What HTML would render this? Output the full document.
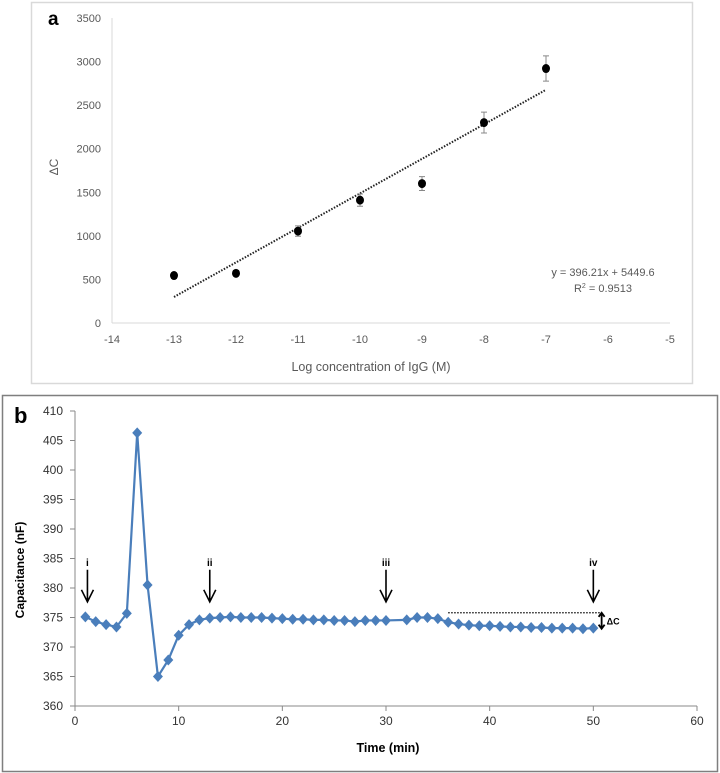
<!DOCTYPE html>
<html><head><meta charset="utf-8"><style>
html,body{margin:0;padding:0;background:#fff;width:720px;height:773px;overflow:hidden}
svg{display:block;font-family:"Liberation Sans",sans-serif}
</style></head><body>
<svg id="s" width="720" height="773" xmlns="http://www.w3.org/2000/svg">
<rect x="31.5" y="2.5" width="661" height="381" fill="none" stroke="#d9d9d9" stroke-width="1.5"/>
<rect x="2.5" y="395.5" width="715" height="376" fill="none" stroke="#7f7f7f" stroke-width="1.5"/>
<text x="48" y="25" font-size="19" font-weight="bold">a</text>
<text x="14" y="423" font-size="22" font-weight="bold">b</text>
<g id="ga"></g>
<g id="gb"></g>
</svg>
<script>
const aX=[-13,-12,-11,-10,-9,-8,-7];
const aY=[545,570,1055,1410,1600,2300,2920];
const aErr=[30,30,60,70,80,120,145];
const aXTicks=[-14,-13,-12,-11,-10,-9,-8,-7,-6,-5];
const aYTicks=[0,500,1000,1500,2000,2500,3000,3500];
const slope=396.21, intercept=5449.6;

const bT=[1,2,3,4,5,6,7,8,9,10,11,12,13,14,15,16,17,18,19,20,21,22,23,24,25,26,27,28,29,30,32,33,34,35,36,37,38,39,40,41,42,43,44,45,46,47,48,49,50];
const bC=[375.1,374.3,373.8,373.4,375.7,406.3,380.5,365,367.8,372,373.8,374.6,374.9,375,375.1,375,375,375,374.9,374.8,374.7,374.7,374.6,374.6,374.5,374.5,374.3,374.5,374.5,374.5,374.6,375,375,374.8,374.2,373.9,373.7,373.6,373.6,373.5,373.4,373.4,373.3,373.3,373.2,373.2,373.2,373.1,373.2];
const bXTicks=[0,10,20,30,40,50,60];
const bYTicks=[360,365,370,375,380,385,390,395,400,405,410];
const arrowT=[1.2,13,30,50];
const arrowLabels=["i","ii","iii","iv"];
const arrowBase=[378,378,378,378];

const NS="http://www.w3.org/2000/svg";
function mk(p,t,a){const e=document.createElementNS(NS,t);for(const k in a)e.setAttribute(k,a[k]);p.appendChild(e);return e;}

// chart a
const ga=document.getElementById('ga');
const ax=v=>112+(v+14)*(670-112)/9;
const ay=v=>323-v*(323-18)/3500;
let e=mk(ga,'line',{x1:112,y1:323,x2:670,y2:323,stroke:'#d9d9d9','stroke-width':1});

e=mk(ga,'line',{x1:112,y1:18,x2:112,y2:323,stroke:'#d9d9d9','stroke-width':1});

aXTicks.forEach(v=>{const t=mk(ga,'text',{x:ax(v),y:343,'font-size':11,fill:'#595959','text-anchor':'middle'});t.textContent=v;
});
aYTicks.forEach(v=>{const t=mk(ga,'text',{x:101,y:ay(v)+4,'font-size':11,fill:'#595959','text-anchor':'end'});t.textContent=v;
});
e=mk(ga,'line',{x1:ax(-13),y1:ay(slope*-13+intercept),x2:ax(-7),y2:ay(slope*-7+intercept),stroke:'#222','stroke-width':2,'stroke-dasharray':'1.5,1.5'});

aX.forEach((x,i)=>{
 const eb=mk(ga,'path',{d:`M${ax(x)},${ay(aY[i]-aErr[i])}V${ay(aY[i]+aErr[i])}M${ax(x)-3},${ay(aY[i]-aErr[i])}h6M${ax(x)-3},${ay(aY[i]+aErr[i])}h6`,stroke:'#888','stroke-width':1,fill:'none'});
 
 const c=mk(ga,'ellipse',{cx:ax(x),cy:ay(aY[i]),rx:4,ry:4.5,fill:'#000'});
 
});
e=mk(ga,'text',{x:603,y:276,'font-size':11,fill:'#595959','text-anchor':'middle'});e.textContent='y = 396.21x + 5449.6';

e=mk(ga,'text',{x:603,y:292,'font-size':11,fill:'#595959','text-anchor':'middle'});e.innerHTML='R<tspan font-size="7" dy="-4">2</tspan><tspan dy="4"> = 0.9513</tspan>';

e=mk(ga,'text',{x:371,y:371,'font-size':12.5,fill:'#595959','text-anchor':'middle'});e.textContent='Log concentration of IgG (M)';

e=mk(ga,'text',{x:0,y:0,'font-size':12,fill:'#595959','text-anchor':'middle',transform:'translate(58,167) rotate(-90)'});e.textContent='ΔC';


// chart b
const gb=document.getElementById('gb');
const bx=v=>75+v*(697-75)/60;
const by=v=>706-(v-360)*(706-411)/50;
e=mk(gb,'line',{x1:75,y1:706,x2:697,y2:706,stroke:'#888','stroke-width':1});

e=mk(gb,'line',{x1:75,y1:411,x2:75,y2:706,stroke:'#888','stroke-width':1});

bXTicks.forEach(v=>{mk(gb,'line',{x1:bx(v),y1:706,x2:bx(v),y2:711,stroke:'#888'});
 const t=mk(gb,'text',{x:bx(v),y:725,'font-size':12,fill:'#333','text-anchor':'middle'});t.textContent=v;
 });
bYTicks.forEach(v=>{mk(gb,'line',{x1:70,y1:by(v),x2:75,y2:by(v),stroke:'#888'});
 const t=mk(gb,'text',{x:63,y:by(v)+4,'font-size':12,fill:'#333','text-anchor':'end'});t.textContent=v;
 });
e=mk(gb,'polyline',{points:bT.map((t,i)=>bx(t)+','+by(bC[i])).join(' '),fill:'none',stroke:'#4a7ebb','stroke-width':2.2});

bT.forEach((t,i)=>{const x=bx(t),y=by(bC[i]);
 const d=mk(gb,'path',{d:`M${x},${y-5.5}L${x+5},${y}L${x},${y+5.5}L${x-5},${y}Z`,fill:'#4a7ebb'});
 });
arrowT.forEach((t,i)=>{const x=bx(t),y0=by(arrowBase[i])-30,y1=by(arrowBase[i])+2;
 const a=mk(gb,'path',{d:`M${x},${y0}V${y1}M${x-6},${y1-12}L${x},${y1}L${x+6},${y1-12}`,stroke:'#000','stroke-width':1.6,fill:'none'});
 
 const l=mk(gb,'text',{x:x,y:y0-4,'font-size':10,'font-weight':'bold','text-anchor':'middle'});l.textContent=arrowLabels[i];
 });
e=mk(gb,'line',{x1:bx(36),y1:by(375.8),x2:bx(50.8),y2:by(375.8),stroke:'#000','stroke-width':1.3,'stroke-dasharray':'1.5,1.5'});

const dx=bx(50.8),ya=by(375.8),yb=by(373.1);
e=mk(gb,'path',{d:`M${dx},${ya}V${yb}M${dx-3},${ya+4}L${dx},${ya}L${dx+3},${ya+4}M${dx-3},${yb-4}L${dx},${yb}L${dx+3},${yb-4}`,stroke:'#000','stroke-width':1.8,fill:'none'});

e=mk(gb,'text',{x:dx+5,y:(ya+yb)/2+4,'font-size':9,'font-weight':'bold'});e.textContent='ΔC';

e=mk(gb,'text',{x:388,y:752,'font-size':12.5,'font-weight':'bold','text-anchor':'middle'});e.textContent='Time (min)';

e=mk(gb,'text',{x:0,y:0,'font-size':12,'font-weight':'bold','text-anchor':'middle',transform:'translate(24,570) rotate(-90)'});e.textContent='Capacitance (nF)';

</script>
</body></html>
